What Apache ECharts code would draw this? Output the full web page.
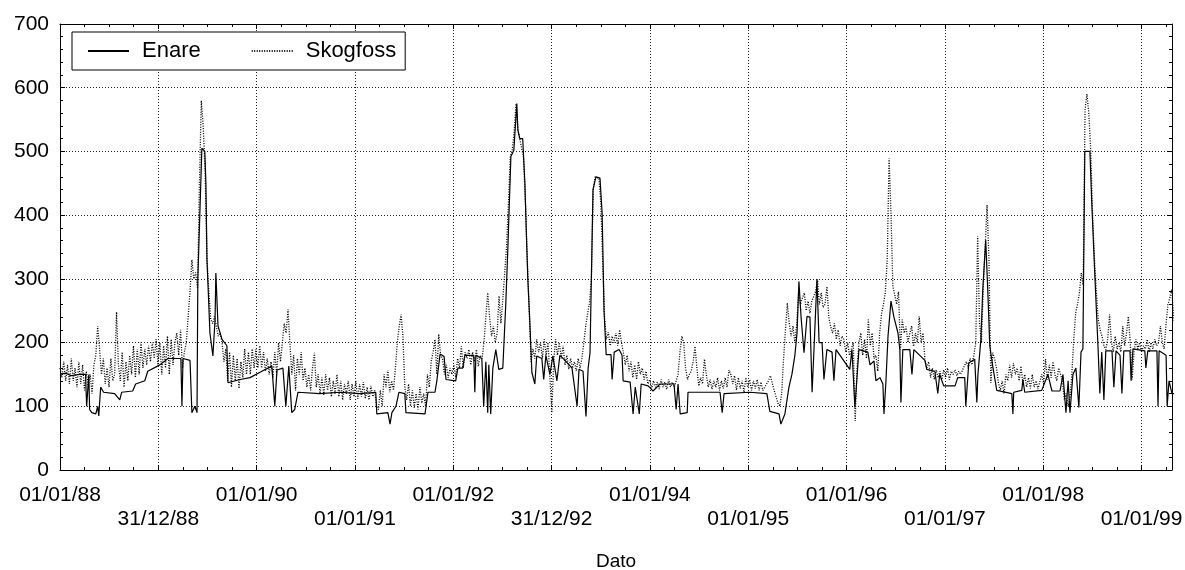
<!DOCTYPE html>
<html><head><meta charset="utf-8">
<script src="https://cdn.jsdelivr.net/npm/echarts@6/dist/echarts.min.js"></script>
<style>html,body{margin:0;padding:0;background:#fff}#c{width:1185px;height:570px}</style>
</head><body><div id="c"></div>
<script>
// x tick labels (one per 365.25-day step from 01/01/88)
const xTickLabels = ['01/01/88','31/12/88','01/01/90','01/01/91','01/01/92','31/12/92','01/01/94','01/01/95','01/01/96','01/01/97','01/01/98','01/01/99'];
const seriesNames = ['Enare','Skogfoss'];

// Enare: [date, value]
const enare = [
['1988-01-01',150],['1988-01-22',152],['1988-02-12',148],['1988-03-14',150],['1988-04-05',150],['1988-04-09',100],['1988-04-17',150],['1988-04-20',95],['1988-04-28',90],['1988-05-13',88],['1988-05-20',100],['1988-05-24',85],['1988-05-31',130],['1988-06-11',122],['1988-07-22',120],['1988-08-10',110],['1988-08-17',122],['1988-09-27',124],['1988-10-08',135],['1988-11-11',140],['1988-11-22',155],
['1989-01-06',165],['1989-02-05',175],['1989-03-25',175],['1989-03-29',100],['1989-04-02',175],['1989-04-28',172],['1989-05-05',90],['1989-05-16',100],['1989-05-24',90],['1989-05-27',299],['1989-06-11',505],['1989-06-22',500],['1989-06-26',450],['1989-06-30',330],['1989-07-11',215],['1989-07-22',179],['1989-07-30',236],['1989-08-02',309],['1989-08-10',226],['1989-08-25',205],['1989-09-12',195],['1989-09-16',137],['1989-10-31',142],['1989-12-07',145],
['1990-01-20',155],['1990-02-26',163],['1990-03-09',100],['1990-03-17',157],['1990-04-08',160],['1990-04-19',100],['1990-04-30',163],['1990-05-11',90],['1990-05-22',95],['1990-06-03',122],['1990-08-23',120],['1990-11-06',122],
['1991-01-19',120],['1991-03-19',122],['1991-03-23',88],['1991-05-03',90],['1991-05-11',72],['1991-05-18',90],['1991-06-02',100],['1991-06-13',122],['1991-07-05',120],['1991-07-09',90],['1991-09-18',88],['1991-09-25',90],['1991-09-29',122],['1991-10-25',122],['1991-11-01',140],['1991-11-13',182],['1991-11-28',178],['1991-12-05',142],
['1992-01-10',140],['1992-01-18',160],['1992-02-05',160],['1992-02-13',180],['1992-03-17',180],['1992-03-21',122],['1992-03-25',180],['1992-04-16',175],['1992-04-23',100],['1992-05-01',170],['1992-05-08',90],['1992-05-12',165],['1992-05-19',88],['1992-05-27',160],['1992-06-07',189],['1992-06-18',158],['1992-07-03',160],['1992-07-14',260],['1992-07-22',351],['1992-08-02',492],['1992-08-13',502],['1992-08-24',575],['1992-08-28',534],['1992-09-04',520],['1992-09-15',520],['1992-09-23',450],['1992-09-30',351],['1992-10-04',299],['1992-10-11',236],['1992-10-19',153],['1992-10-30',135],['1992-11-06',179],['1992-11-25',175],['1992-12-02',142],['1992-12-10',180],['1992-12-25',150],
['1993-01-05',179],['1993-01-20',140],['1993-01-31',180],['1993-02-19',172],['1993-03-17',160],['1993-04-05',100],['1993-04-12',158],['1993-04-27',155],['1993-05-08',84],['1993-05-16',160],['1993-05-23',184],['1993-06-03',440],['1993-06-14',460],['1993-06-29',458],['1993-07-07',403],['1993-07-14',250],['1993-07-22',181],['1993-08-09',181],['1993-08-13',142],['1993-08-21',185],['1993-09-08',189],['1993-09-19',180],['1993-09-23',140],['1993-10-19',138],['1993-10-30',88],['1993-11-07',130],['1993-11-22',88],['1993-11-29',135],['1993-12-25',132],
['1994-01-12',124],['1994-02-07',135],['1994-03-31',135],['1994-04-08',95],['1994-04-15',135],['1994-04-23',88],['1994-05-19',90],['1994-05-22',122],['1994-09-18',122],['1994-09-26',90],['1994-10-03',120],
['1995-01-07',122],['1995-03-11',120],['1995-03-22',92],['1995-04-25',88],['1995-05-02',72],['1995-05-17',88],['1995-06-01',130],['1995-06-12',150],['1995-06-23',180],['1995-07-01',215],['1995-07-08',296],['1995-07-16',240],['1995-07-27',184],['1995-08-07',241],['1995-08-18',240],['1995-08-26',122],['1995-09-02',189],['1995-09-13',299],['1995-09-21',200],['1995-10-02',200],['1995-10-09',142],['1995-10-20',189],['1995-11-08',185],['1995-11-15',140],['1995-11-23',189],
['1996-01-13',158],['1996-01-21',189],['1996-02-01',98],['1996-02-08',100],['1996-02-16',189],['1996-03-20',185],['1996-03-28',165],['1996-04-12',171],['1996-04-19',140],['1996-05-04',145],['1996-05-15',135],['1996-05-19',88],['1996-05-26',137],['1996-06-03',210],['1996-06-14',265],['1996-06-25',240],['1996-07-10',215],['1996-07-17',189],['1996-07-21',106],['1996-07-28',189],['1996-08-23',189],['1996-08-31',150],['1996-09-07',189],['1996-09-29',180],['1996-10-18',172],['1996-10-25',158],['1996-11-24',155],['1996-12-05',120],['1996-12-12',150],['1996-12-27',132],
['1997-02-07',132],['1997-02-17',145],['1997-03-15',145],['1997-03-19',100],['1997-03-26',100],['1997-03-30',168],['1997-04-21',174],['1997-04-29',106],['1997-05-03',150],['1997-05-14',205],['1997-05-21',283],['1997-06-01',361],['1997-06-09',278],['1997-06-16',195],['1997-06-27',163],['1997-07-12',125],['1997-09-06',120],['1997-09-10',88],['1997-09-13',122],['1997-10-13',125],['1997-10-17',142],['1997-10-24',122],['1997-12-26',125],
['1998-01-18',150],['1998-02-02',124],['1998-03-04',124],['1998-03-15',150],['1998-03-26',90],['1998-04-03',140],['1998-04-10',90],['1998-04-21',150],['1998-05-02',160],['1998-05-13',98],['1998-05-21',185],['1998-05-28',190],['1998-06-04',500],['1998-06-23',500],['1998-06-30',419],['1998-07-11',309],['1998-07-23',195],['1998-07-30',120],['1998-08-06',185],['1998-08-14',110],['1998-08-21',187],['1998-09-13',187],['1998-09-20',130],['1998-09-28',187],['1998-10-13',180],['1998-10-20',120],['1998-10-27',187],['1998-11-19',187],['1998-11-23',140],['1998-11-30',190],
['1999-01-13',187],['1999-01-17',160],['1999-01-24',187],['1999-02-27',187],['1999-03-03',100],['1999-03-07',187],['1999-04-02',180],['1999-04-06',100],['1999-04-13',140],['1999-04-24',120],['1999-05-16',120],['1999-06-11',120]
];

// Skogfoss: weekly values from 1988-01-01, in 52-week blocks
const skogStart = '1988-01-01';
const skogStepDays = 7;
const skogB0 = [160,145,170,140,165,135,175,140,160,130,170,135,165,125,155,130,150,120,165,180,226,190,150,175,135,160,130,175,140,150,248,165,140,185,130,170,140,180,150,195,145,190,150,200,160,190,165,195,170,200,175,205];
const skogB1 = [165,200,150,195,160,210,150,205,165,200,215,180,220,160,185,200,240,280,330,300,310,285,450,580,540,470,330,280,236,230,241,225,210,215,200,170,190,140,185,130,180,140,175,128,170,145,190,150,185,150,190,160];
const skogB2 = [190,160,195,160,185,155,175,150,170,145,185,150,200,170,200,230,215,252,200,150,180,125,175,150,185,140,160,130,150,125,160,184,130,150,120,145,118,150,125,145,115,140,120,150,115,140,110,135,120,140,110,135];
const skogB3 = [115,140,112,135,115,138,112,130,110,132,115,125,100,95,125,100,150,130,157,122,140,125,160,200,225,244,210,130,110,135,100,125,98,120,95,130,105,120,100,150,130,170,185,205,150,213,180,175,150,165,145,160];
const skogB4 = [150,165,145,175,160,194,160,185,175,189,165,185,170,189,163,180,175,200,240,278,240,210,226,200,215,273,230,268,265,351,420,492,502,530,575,534,520,520,490,420,330,250,170,190,175,205,185,200,175,205,180,200];
const skogB5 = [200,90,170,205,180,200,175,195,165,180,158,175,160,170,155,175,160,175,200,226,245,262,300,440,460,460,458,420,330,240,205,216,195,210,200,215,195,220,200,184,165,180,155,170,145,165,142,170,150,160,142,155];
const skogB6 = [135,142,128,140,130,138,127,142,130,138,127,142,130,138,130,140,150,185,210,200,160,142,150,155,170,194,160,132,145,135,174,150,130,142,127,140,130,145,125,140,128,145,130,157,150,135,148,125,145,128,140,122];
const skogB7 = [145,130,142,125,140,128,142,125,138,125,130,132,140,148,150,125,115,105,100,120,174,220,262,230,210,226,200,230,278,260,270,278,250,265,246,265,265,280,299,260,278,255,260,288,240,225,215,230,205,220,195,210];
const skogB8 = [205,185,200,180,190,200,77,160,200,215,180,205,175,236,195,215,175,180,155,215,245,260,278,330,489,403,288,275,260,280,189,236,215,225,200,215,226,194,215,200,241,200,215,174,160,170,145,160,142,157,145,155];
const skogB9 = [142,157,145,160,142,155,150,157,148,155,150,157,155,170,160,175,165,180,200,367,230,200,288,290,416,330,137,184,174,160,137,125,140,120,150,140,165,145,168,150,160,140,163,135,150,130,145,128,150,130,140,127];
const skogB10 = [125,150,135,174,142,165,145,170,150,140,160,150,140,110,120,100,115,150,205,246,260,278,309,290,565,590,560,502,400,330,280,236,220,210,195,189,205,244,200,185,210,190,200,185,226,195,215,241,200,142,185,205];
const skogB11 = [190,200,185,195,190,205,185,200,190,205,195,200,226,200,190,230,260,270,284,241,241,200,160,190,180,150];

const YEAR_DAYS = 365.25;
const X_MAX_DAYS = 4131;

const DAY = 86400000;
const T0 = Date.UTC(1988, 0, 1);
function dayOf(s) { const p = s.split('-').map(Number); return (Date.UTC(p[0], p[1] - 1, p[2]) - T0) / DAY; }
const enareData = enare.map(r => [dayOf(r[0]), r[1]]);
const skogValues = [].concat(skogB0, skogB1, skogB2, skogB3, skogB4, skogB5, skogB6, skogB7, skogB8, skogB9, skogB10, skogB11);
const s0 = dayOf(skogStart);
const skogData = skogValues.map((v, i) => [s0 + i * skogStepDays, v]);

const FONT = 'Liberation Sans, Arial, sans-serif';
const chart = echarts.init(document.getElementById('c'), null, { renderer: 'canvas' });

function xLabel(v) {
  const k = Math.round(v / YEAR_DAYS);
  if (Math.abs(v - k * YEAR_DAYS) > 1 || !xTickLabels[k]) return '';
  return k % 2 ? '\n' + xTickLabels[k] : xTickLabels[k];
}
const gridLine = { show: true, lineStyle: { color: '#222', width: 1, type: [1, 2] } };
const axisLine = { show: true, onZero: false, lineStyle: { color: '#000', width: 1 } };

chart.setOption({
  animation: false,
  backgroundColor: '#fff',
  textStyle: { fontFamily: FONT, color: '#000' },
  grid: { left: 60, right: 13, top: 24, bottom: 100, containLabel: false, outerBoundsMode: 'none' },
  legend: {
    left: 72, top: 32,
    padding: [8, 9, 8, 15],
    itemGap: 50, itemWidth: 41, itemHeight: 14,
    borderColor: '#000', borderWidth: 1, backgroundColor: '#fff',
    itemStyle: { opacity: 0 },
    textStyle: { fontFamily: FONT, fontSize: 22, color: '#000', padding: [0, 0, 0, 8] },
    data: seriesNames
  },
  xAxis: [
    { type: 'value', position: 'bottom', min: 0, max: X_MAX_DAYS, interval: YEAR_DAYS,
      axisLine, axisTick: { show: true, inside: true, length: 5, lineStyle: { color: '#000' } },
      minorTick: { show: true, splitNumber: 4, length: 3, lineStyle: { color: '#000' } },
      splitLine: gridLine,
      axisLabel: { formatter: xLabel, fontFamily: FONT, fontSize: 21, color: '#000', lineHeight: 24, margin: 13, showMaxLabel: false },
      name: 'Dato', nameLocation: 'middle', nameGap: 82, nameTextStyle: { fontFamily: FONT, fontSize: 19, color: '#000' } },
    { type: 'value', position: 'top', min: 0, max: X_MAX_DAYS, interval: YEAR_DAYS,
      axisLine, axisTick: { show: true, inside: true, length: 5, lineStyle: { color: '#000' } },
      minorTick: { show: true, splitNumber: 4, length: 3, lineStyle: { color: '#000' } },
      splitLine: { show: false }, axisLabel: { show: false } }
  ],
  yAxis: [
    { type: 'value', position: 'left', min: 0, max: 700, interval: 100,
      axisLine, axisTick: { show: true, inside: true, length: 5, lineStyle: { color: '#000' } },
      minorTick: { show: true, splitNumber: 5, length: 3, lineStyle: { color: '#000' } },
      splitLine: gridLine,
      axisLabel: { fontFamily: FONT, fontSize: 21, color: '#000', margin: 11 } },
    { type: 'value', position: 'right', min: 0, max: 700, interval: 100,
      axisLine, axisTick: { show: true, inside: true, length: 5, lineStyle: { color: '#000' } },
      minorTick: { show: true, splitNumber: 5, length: 3, lineStyle: { color: '#000' } },
      splitLine: { show: false }, axisLabel: { show: false } }
  ],
  series: [
    { name: seriesNames[0], type: 'line', data: enareData, showSymbol: false, symbol: 'none',
      lineStyle: { color: '#000', width: 1.2, type: 'solid' }, itemStyle: { color: '#000' }, z: 3, clip: true },
    { name: seriesNames[1], type: 'line', data: skogData, showSymbol: false, symbol: 'none',
      lineStyle: { color: '#000', width: 1.3, type: [1, 1.5] }, itemStyle: { color: '#000' }, z: 2, clip: true }
  ]
});
</script></body></html>
